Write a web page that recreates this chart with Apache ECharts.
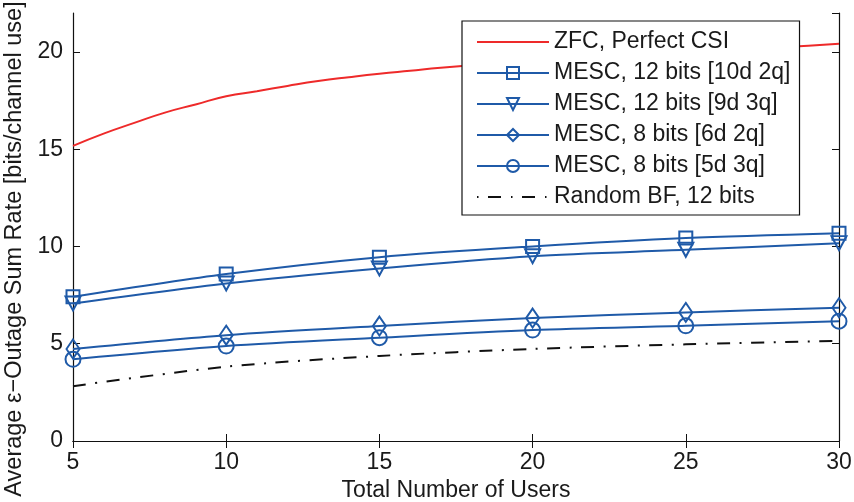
<!DOCTYPE html>
<html>
<head>
<meta charset="utf-8">
<script src="https://cdn.jsdelivr.net/npm/echarts@6/dist/echarts.min.js"></script>
<style>html,body{margin:0;padding:0;background:#fff;}#c{width:854px;height:502px;}</style>
</head>
<body>
<div id="c"></div>
<script>
// Data
const zfcX = [5,6,7,8,9,10,11,12,13,14,15,16,17,18,19,20,21,22,23,24,25,26,27,28,29,30];
const zfcY = [15.17,15.8,16.35,16.88,17.3,17.72,17.98,18.25,18.5,18.7,18.88,19.03,19.18,19.31,19.43,19.55,19.65,19.75,19.84,19.92,20.0,20.08,20.16,20.24,20.32,20.42];
const users = [5,10,15,20,25,30];
const mesc12a = [7.41,8.58,9.45,10.0,10.43,10.68];
const mesc12b = [7.07,8.1,8.87,9.5,9.83,10.17];
const mesc8a = [4.73,5.44,5.91,6.32,6.61,6.85];
const mesc8b = [4.2,4.88,5.31,5.7,5.92,6.16];
const randBF = [2.82,3.82,4.37,4.73,4.97,5.15];
const xTicks = [5,10,15,20,25,30];
const yTicks = [0,5,10,15,20];
const names = ['ZFC, Perfect CSI','MESC, 12 bits [10d 2q]','MESC, 12 bits [9d 3q]','MESC, 8 bits [6d 2q]','MESC, 8 bits [5d 3q]','Random BF, 12 bits'];

const RED = '#ee2a2a', BLUE = '#1f5aa8', FONT = '"Liberation Sans", Arial, sans-serif', TXT = '#1a1a1a';
const pairs = (xs, ys) => xs.map((x, i) => [x, ys[i]]);

// legend glyphs (line-only samples)
const solidIcon = 'path://M0,0 L72,0 L72,2 L0,2 Z';
const dashDotIcon = 'path://M0,0 L1.5,0 L1.5,2 L0,2 Z M11,0 L24,0 L24,2 L11,2 Z M34,0 L35.5,0 L35.5,2 L34,2 Z M45,0 L58,0 L58,2 L45,2 Z M68,0 L69.5,0 L69.5,2 L68,2 Z M0,0 L0,0.01 Z M72,0 L72,0.01 Z';

function mesc(name, ys, symbol, size) {
  return {
    name, type: 'line', data: pairs(users, ys), smooth: 0.3, clip: false,
    symbol, symbolSize: size, showAllSymbol: true,
    lineStyle: { color: BLUE, width: 2 },
    itemStyle: { color: 'rgba(0,0,0,0)', borderColor: BLUE, borderWidth: 2 },
    emphasis: { disabled: true }, z: 3
  };
}

const axisCommon = {
  type: 'value',
  axisLine: { show: true, lineStyle: { color: '#111', width: 1.2 } },
  axisTick: { show: true, inside: true, length: 7, lineStyle: { color: '#111', width: 1 } },
  splitLine: { show: false }
};

const chart = echarts.init(document.getElementById('c'), null, { renderer: 'canvas' });
chart.setOption({
  animation: false,
  backgroundColor: '#fff',
  grid: { left: 73, right: 15, top: 13, bottom: 61, containLabel: false, outerBoundsMode: 'none' },
  xAxis: [
    Object.assign({}, axisCommon, {
      min: xTicks[0], max: xTicks[xTicks.length - 1], interval: 5, position: 'bottom',
      name: 'Total Number of Users', nameLocation: 'middle', nameGap: 37,
      nameTextStyle: { fontFamily: FONT, fontSize: 23, color: TXT },
      axisLabel: { fontFamily: FONT, fontSize: 23, color: TXT, margin: 10 }
    }),
    Object.assign({}, axisCommon, {
      min: xTicks[0], max: xTicks[xTicks.length - 1], interval: 5, position: 'top',
      axisLabel: { show: false }
    })
  ],
  yAxis: [
    Object.assign({}, axisCommon, {
      min: yTicks[0], max: 22, interval: 5, position: 'left',
      name: 'Average ε−Outage Sum Rate [bits/channel use]', nameLocation: 'middle', nameGap: 44,
      nameTextStyle: { fontFamily: FONT, fontSize: 23.5, color: TXT, padding: [0, 44, 0, 0] },
      axisLabel: { fontFamily: FONT, fontSize: 23, color: TXT, margin: 10, showMaxLabel: false,
        formatter: v => (yTicks.indexOf(v) >= 0 ? String(v) : '') }
    }),
    Object.assign({}, axisCommon, {
      min: yTicks[0], max: 22, interval: 5, position: 'right',
      axisLabel: { show: false }
    })
  ],
  legend: {
    orient: 'vertical', left: 462, top: 21,
    backgroundColor: '#fff', borderColor: '#111', borderWidth: 1.2,
    padding: [8, 9, 5, 14], itemGap: 5, itemWidth: 72, itemHeight: 15,
    textStyle: { fontFamily: FONT, fontSize: 23, color: TXT, lineHeight: 26 },
    selectedMode: false,
    data: [
      { name: names[0], icon: solidIcon, itemStyle: { color: RED, borderWidth: 0 } },
      names[1], names[2], names[3], names[4],
      { name: names[5], icon: dashDotIcon, itemStyle: { color: '#111', borderWidth: 0 } }
    ]
  },
  series: [
    { name: names[0], type: 'line', data: pairs(zfcX, zfcY), smooth: true, symbol: 'none',
      lineStyle: { color: RED, width: 2 }, itemStyle: { color: RED }, z: 2 },
    mesc(names[1], mesc12a, 'rect', 13),
    mesc(names[2], mesc12b, 'path://M0,0 L10,0 L5,9.5 Z', [15, 14]),
    mesc(names[3], mesc8a, 'path://M5,0 L10,7 L5,14 L0,7 Z', [13, 19]),
    mesc(names[4], mesc8b, 'circle', 15),
    { name: names[5], type: 'line', data: pairs(users, randBF), smooth: 0.3, symbol: 'none',
      lineStyle: { color: '#111', width: 2, type: [13, 9.5, 2, 9.5] }, itemStyle: { color: '#111' }, z: 2 }
  ]
});
</script>
</body>
</html>
